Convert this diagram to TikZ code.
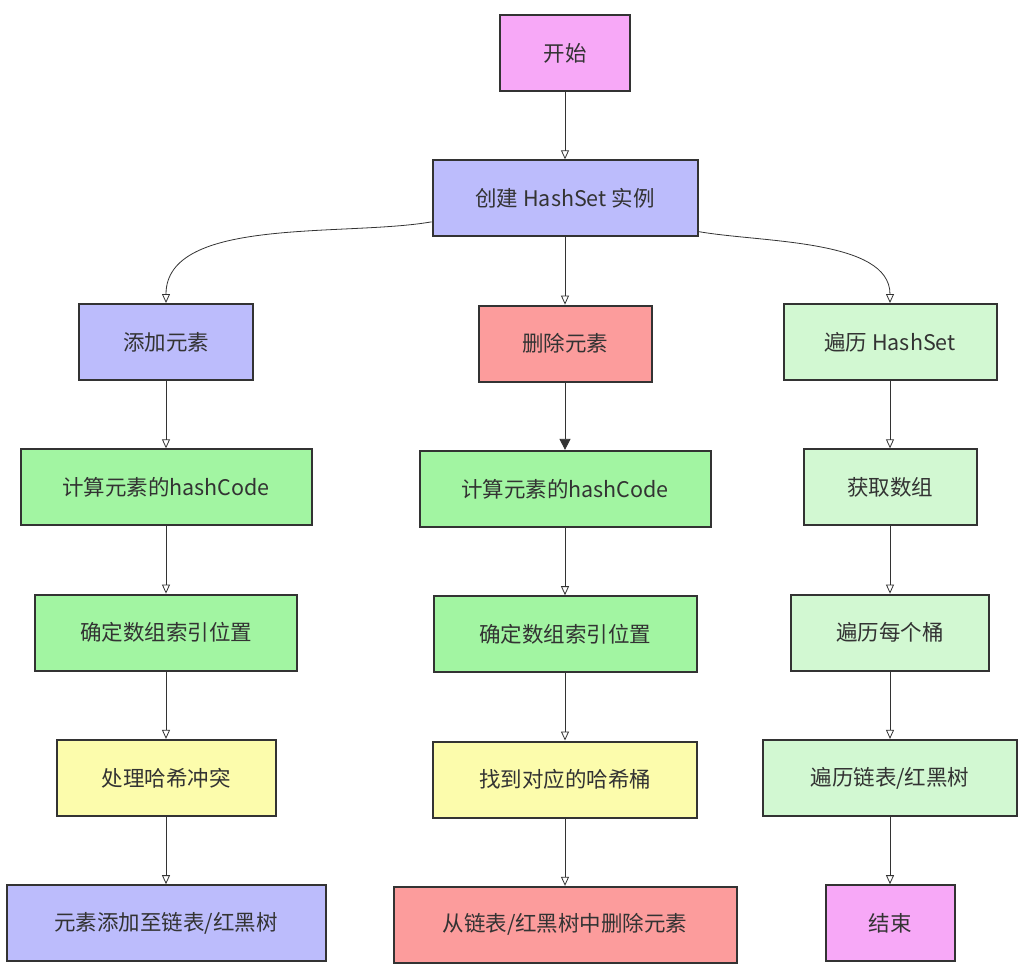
\documentclass[tikz,border=0pt]{standalone}
\usepackage{fontspec}
\setmainfont{Noto Sans CJK SC}
\usetikzlibrary{arrows.meta,positioning}
\definecolor{ink}{HTML}{333333}
\definecolor{pinkfill}{HTML}{F7A8F7}
\definecolor{bluefill}{HTML}{BCBCFC}
\definecolor{redfill}{HTML}{FC9C9C}
\definecolor{greenfill}{HTML}{A2F5A2}
\definecolor{palegreen}{HTML}{D2F8D2}
\definecolor{yellowfill}{HTML}{FCFCAC}

\begin{document}
\begin{tikzpicture}[
  x=1pt, y=-1pt,
  font=\fontsize{21.5}{26}\selectfont,
  node distance=67.3pt,
  box/.style={draw=ink, line width=2pt, text=ink, align=center,
              minimum height=76pt, inner sep=4pt},
  arr/.style={-{Triangle[open, length=9pt, width=8pt]}, line width=0.8pt, draw=ink},
  fullarr/.style={-{Triangle[length=11pt, width=11pt]}, line width=0.8pt, draw=ink}
]
\useasboundingbox (0,0) rectangle (1029,967);

% top
\node[box, fill=pinkfill, minimum width=130pt] (start) at (565,53) {开始};
\node[box, fill=bluefill, minimum width=265pt, below=of start] (create) {创建 HashSet 实例};

% three branches
\node[box, fill=bluefill, minimum width=174pt] (add) at (166,342) {添加元素};
\node[box, fill=redfill, minimum width=173pt, below=of create] (del) {删除元素};
\node[box, fill=palegreen, minimum width=213pt] (trav) at (890,342) {遍历 HashSet};

% add column
\node[box, fill=greenfill, minimum width=291pt, below=of add] (addhash) {计算元素的hashCode};
\node[box, fill=greenfill, minimum width=262pt, below=of addhash] (addidx) {确定数组索引位置};
\node[box, fill=yellowfill, minimum width=219pt, below=of addidx] (conflict) {处理哈希冲突};
\node[box, fill=bluefill, minimum width=319pt, below=of conflict] (addlist) {元素添加至链表/红黑树};

% delete column
\node[box, fill=greenfill, minimum width=291pt, below=of del] (delhash) {计算元素的hashCode};
\node[box, fill=greenfill, minimum width=263pt, below=of delhash] (delidx) {确定数组索引位置};
\node[box, fill=yellowfill, minimum width=264pt, below=of delidx] (bucket) {找到对应的哈希桶};
\node[box, fill=redfill, minimum width=343pt, below=of bucket] (remove) {从链表/红黑树中删除元素};

% traverse column
\node[box, fill=palegreen, minimum width=173pt, below=of trav] (getarr) {获取数组};
\node[box, fill=palegreen, minimum width=198pt, below=of getarr] (each) {遍历每个桶};
\node[box, fill=palegreen, minimum width=254pt, below=of each] (walk) {遍历链表/红黑树};
\node[box, fill=pinkfill, minimum width=129pt, below=of walk] (finish) {结束};

\draw[arr] (start) -- (create);
\draw[arr] (create.190) to[out=190, in=90, looseness=0.8] (add.north);
\draw[arr] (create) -- (del);
\draw[arr] (create.-14) to[out=-10, in=90, looseness=0.8] (trav.north);

\draw[arr] (add) -- (addhash);
\draw[arr] (addhash) -- (addidx);
\draw[arr] (addidx) -- (conflict);
\draw[arr] (conflict) -- (addlist);

\draw[fullarr] (del) -- (delhash);
\draw[arr] (delhash) -- (delidx);
\draw[arr] (delidx) -- (bucket);
\draw[arr] (bucket) -- (remove);

\draw[arr] (trav) -- (getarr);
\draw[arr] (getarr) -- (each);
\draw[arr] (each) -- (walk);
\draw[arr] (walk) -- (finish);
\end{tikzpicture}
\end{document}
